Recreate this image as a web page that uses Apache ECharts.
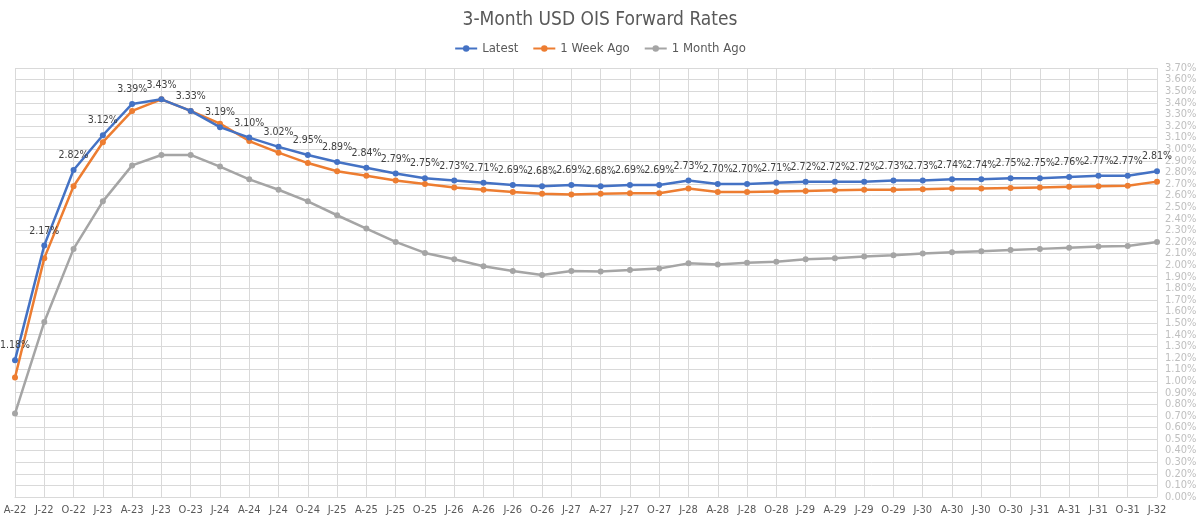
<!DOCTYPE html>
<html>
<head>
<meta charset="utf-8">
<script src="https://cdn.jsdelivr.net/npm/echarts@6/dist/echarts.min.js"></script>
<style>
  html, body { margin: 0; padding: 0; background: #fff; }
  #chart { width: 1200px; height: 520px; }
</style>
</head>
<body>
<div id="chart"></div>
<script>
// 季度标签
var categories = [
    'A-22', 'J-22', 'O-22', 'J-23', 'A-23', 'J-23', 'O-23', 'J-24', 'A-24', 'J-24',
    'O-24', 'J-25', 'A-25', 'J-25', 'O-25', 'J-26', 'A-26', 'J-26', 'O-26', 'J-27',
    'A-27', 'J-27', 'O-27', 'J-28', 'A-28', 'J-28', 'O-28', 'J-29', 'A-29', 'J-29',
    'O-29', 'J-30', 'A-30', 'J-30', 'O-30', 'J-31', 'A-31', 'J-31', 'O-31', 'J-32'
];

// 最新
var latest = [
    1.18, 2.17, 2.82, 3.12, 3.39, 3.43, 3.33, 3.19, 3.10, 3.02,
    2.95, 2.89, 2.84, 2.79, 2.75, 2.73, 2.71, 2.69, 2.68, 2.69,
    2.68, 2.69, 2.69, 2.73, 2.70, 2.70, 2.71, 2.72, 2.72, 2.72,
    2.73, 2.73, 2.74, 2.74, 2.75, 2.75, 2.76, 2.77, 2.77, 2.81
];

// 一周前
var weekAgo = [
    1.03, 2.06, 2.68, 3.06, 3.33, 3.43, 3.33, 3.22, 3.07, 2.97,
    2.88, 2.81, 2.77, 2.73, 2.70, 2.67, 2.65, 2.63, 2.615, 2.61,
    2.615, 2.62, 2.62, 2.66, 2.63, 2.63, 2.635, 2.64, 2.645, 2.65,
    2.65, 2.655, 2.66, 2.66, 2.665, 2.67, 2.675, 2.68, 2.685, 2.72
];

// 一个月前
var monthAgo = [
    0.72, 1.51, 2.14, 2.55, 2.86, 2.95, 2.95, 2.85, 2.74, 2.65,
    2.55, 2.43, 2.315, 2.20, 2.105, 2.05, 1.99, 1.95, 1.915, 1.95,
    1.945, 1.957, 1.97, 2.015, 2.005, 2.02, 2.03, 2.05, 2.06, 2.075,
    2.085, 2.10, 2.11, 2.12, 2.13, 2.14, 2.15, 2.16, 2.165, 2.20
];

var FONT = '"Liberation Sans Narrow", "DejaVu Sans Condensed", Roboto, sans-serif';

(function () {
    var myChart = echarts.init(document.getElementById('chart'));

    function lineSeries(name, data, color, showLabel) {
        return {
            name: name,
            type: 'line',
            data: data,
            symbol: 'circle',
            symbolSize: 6,
            lineStyle: { width: 2.5, color: color },
            itemStyle: { color: color },
            label: {
                show: showLabel,
                position: 'top',
                distance: 6,
                fontFamily: FONT,
                fontSize: 10.5,
                color: '#404040',
                formatter: function (p) { return p.value.toFixed(2) + '%'; }
            },
            z: showLabel ? 5 : 3
        };
    }

    var option = {
        animation: false,
        textStyle: { fontFamily: FONT },
        title: {
            text: '3-Month USD OIS Forward Rates',
            left: 'center',
            top: 6,
            textStyle: { fontFamily: FONT, fontSize: 19, fontWeight: 'normal', color: '#595959' }
        },
        legend: {
            top: 37,
            left: 'center',
            itemWidth: 22,
            itemHeight: 8,
            itemGap: 14,
            textStyle: { fontFamily: FONT, fontSize: 13, color: '#595959' },
            data: ['Latest', '1 Week Ago', '1 Month Ago']
        },
        grid: { left: 15, right: 43, top: 68, bottom: 23 },
        xAxis: {
            type: 'category',
            data: categories,
            boundaryGap: false,
            axisLine: { show: true, lineStyle: { color: '#d9d9d9' } },
            axisTick: { show: false },
            axisLabel: { interval: 0, fontFamily: FONT, fontSize: 11, color: '#595959', margin: 8 },
            splitLine: { show: true, interval: 0, lineStyle: { color: '#d9d9d9' } }
        },
        yAxis: {
            type: 'value',
            position: 'right',
            min: 0,
            max: 3.7,
            interval: 0.1,
            axisLine: { show: false },
            axisTick: { show: false },
            axisLabel: {
                fontFamily: FONT, fontSize: 11, color: '#bfbfbf', margin: 8,
                formatter: function (v) { return v.toFixed(2) + '%'; }
            },
            splitLine: { lineStyle: { color: '#d9d9d9' } }
        },
        series: [
            lineSeries('Latest', latest, '#4472C4', true),
            lineSeries('1 Week Ago', weekAgo, '#ED7D31', false),
            lineSeries('1 Month Ago', monthAgo, '#A5A5A5', false)
        ]
    };

    myChart.setOption(option);
})();
</script>
</body>
</html>
